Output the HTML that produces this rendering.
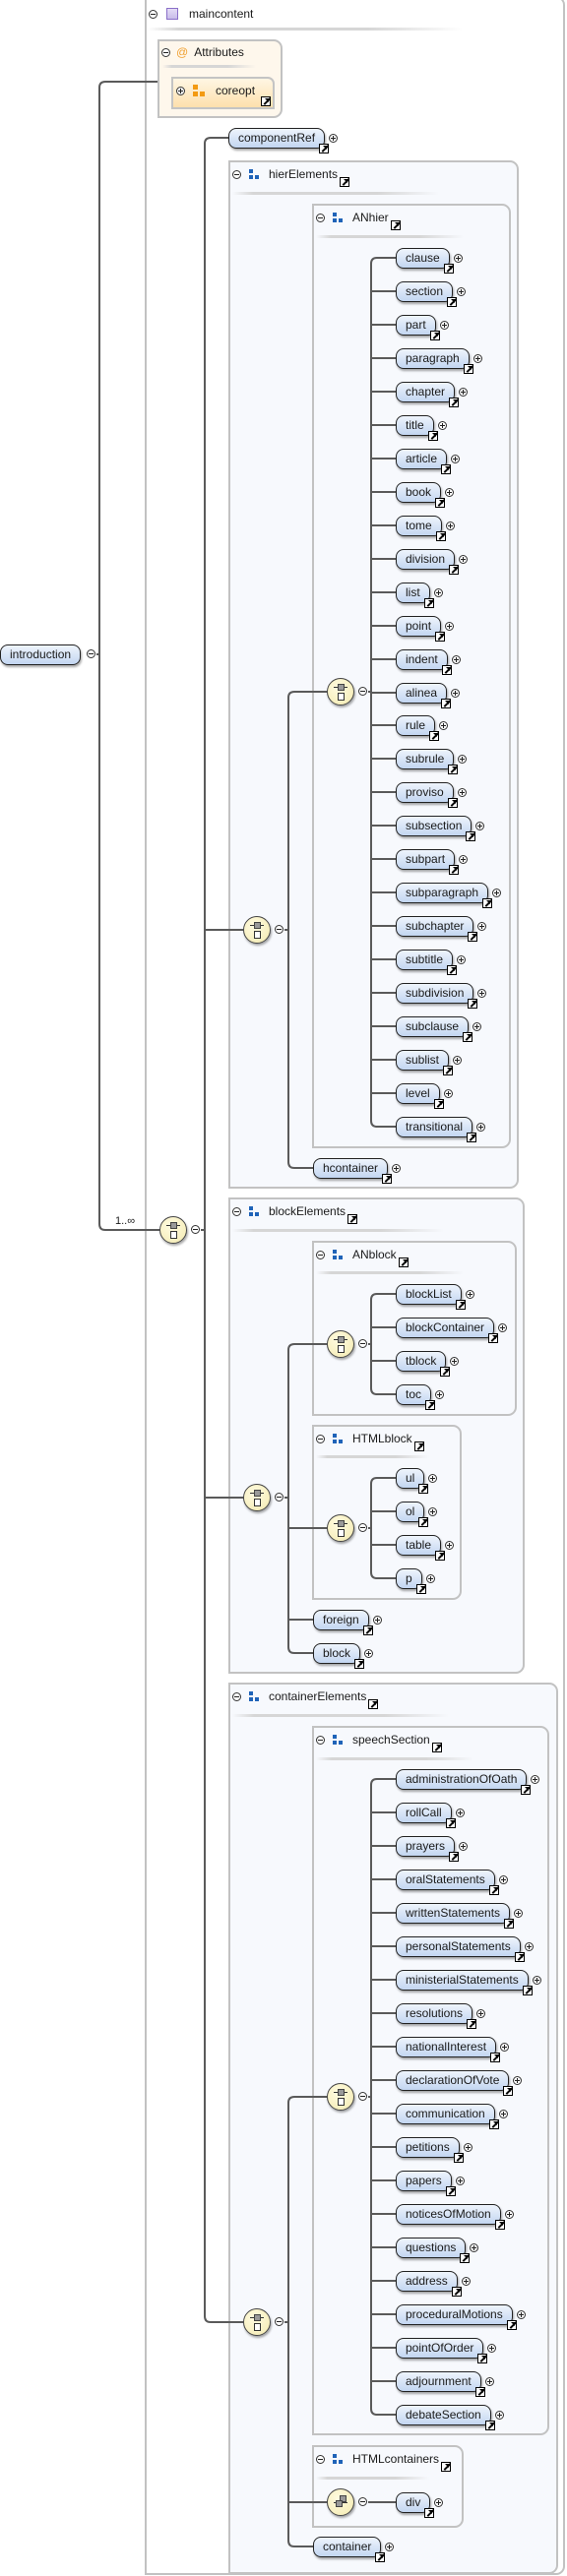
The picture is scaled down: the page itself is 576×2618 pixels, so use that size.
<!DOCTYPE html>
<html><head><meta charset="utf-8">
<style>
*{box-sizing:border-box;margin:0;padding:0}
body{width:576px;height:2618px;position:relative;background:#fff;font-family:"Liberation Sans","DejaVu Sans",sans-serif;overflow:hidden;color:#1a1a1a}
.box{position:absolute;border:2px solid #c2c2c2;background:#f7f9fd;border-radius:0 9px 9px 0}
.ttl{position:absolute;font-size:12px;white-space:nowrap;height:14px;line-height:14px;display:flex;align-items:center}
.ttl .tx{margin-left:8px;position:relative}
.ttl .tx .lk{right:auto;left:calc(100% + 2px);bottom:auto;top:10px}
.sep{position:absolute;height:3px;background:linear-gradient(90deg,rgba(200,200,200,0),#d6d6d6 10%,#d6d6d6 70%,rgba(220,220,220,0))}
.bi{position:relative;width:12px;height:11px;display:inline-block;margin-left:8px}
.bi i{position:absolute;width:4px;height:4px;background:#1f63b8}
.el{position:absolute;display:flex;align-items:center;height:22px;white-space:nowrap}
.b{position:relative;height:21px;line-height:19px;padding:0 9px;border:1px solid #222;border-radius:8px;background:linear-gradient(#eef4fc,#c3d6f1);font-size:12px;box-shadow:1px 2px 2px rgba(0,0,0,.35)}
.lk{position:absolute;right:-5px;bottom:-6px;width:10px;height:10px;background:#fff;border:1px solid #000;overflow:hidden}
.lk::before{content:"";position:absolute;left:1px;top:3px;width:9px;height:2px;background:#000;transform:rotate(-45deg)}
.lk::after{content:"";position:absolute;right:1px;top:1px;width:0;height:0;border-top:4px solid #000;border-left:4px solid transparent}
.p,.m{position:relative;width:9px;height:9px;border:1px solid #333;border-radius:50%;background:#fff;flex:none}
.p{margin-left:4px}
.p::before,.m::before{content:"";position:absolute;left:1px;top:3px;width:5px;height:1px;background:#222}
.p::after{content:"";position:absolute;left:3px;top:1px;width:1px;height:5px;background:#222}
.m.a{position:absolute}
.nd{position:absolute;width:28px;height:28px;border:1px solid #444;border-radius:50%;background:radial-gradient(circle at 40% 35%,#fffbe0,#f3eab0);box-shadow:1px 2px 2px rgba(0,0,0,.35)}
.nd .h{position:absolute;left:6px;top:8px;width:14px;height:1px;background:#333}
.nd .g{position:absolute;left:10px;top:5px;width:7px;height:7px;background:#999;border:1px solid #444}
.nd .w{position:absolute;left:10px;top:14px;width:7px;height:8px;background:#fff;border:1px solid #333}
svg{position:absolute;left:0;top:0}
</style></head><body>

<!-- boxes -->
<div class="box" style="left:147px;top:-4px;width:427px;height:2621px;background:#fff"></div>
<div class="ttl" style="left:151px;top:7px"><span class="m"></span><span style="display:inline-block;width:12px;height:12px;margin-left:9px;border:1px solid #8a6fc8;background:linear-gradient(#e4dcf6,#c9bce9)"></span><span class="tx" style="margin-left:11px">maincontent</span></div>
<div class="sep" style="left:150px;top:28px;width:320px"></div>

<div class="box" style="left:160px;top:40px;width:127px;height:80px;background:#fef7ec;border-radius:0 9px 9px 0"></div>
<div class="ttl" style="left:164px;top:46px"><span class="m"></span><span style="color:#f0a030;margin-left:6px;font-size:12px">@</span><span class="tx" style="margin-left:6px">Attributes</span></div>
<div class="sep" style="left:165px;top:66px;width:95px"></div>
<div style="position:absolute;left:174px;top:78px;width:105px;height:33px;border:2px solid #c4c4c4;border-radius:0 7px 0 0;background:linear-gradient(#fff6e4,#fde0ac)"></div>
<div class="ttl" style="left:179px;top:85px"><span class="m" style="position:relative"><span style="position:absolute;left:3px;top:1px;width:1px;height:5px;background:#222"></span></span><span class="bi" style="margin-left:8px;width:14px;height:12px"><i style="left:0;top:0;width:5px;height:5px;background:#f39a12"></i><i style="left:0;top:7px;width:5px;height:5px;background:#f39a12"></i><i style="left:7px;top:7px;width:5px;height:5px;background:#f39a12"></i></span><span class="tx" style="margin-left:9px">coreopt</span></div>
<div class="lk" style="left:265px;top:98px;right:auto;bottom:auto"></div>

<div class="box" style="left:232px;top:163px;width:295px;height:1045px"></div>
<div class="ttl" style="left:236px;top:170px"><span class="m"></span><span class="bi"><i style="left:0;top:0"></i><i style="left:0;top:6px"></i><i style="left:6px;top:6px"></i></span><span class="tx">hierElements<span class="lk"></span></span></div>
<div class="sep" style="left:236px;top:195px;width:210px"></div>

<div class="box" style="left:317px;top:207px;width:202px;height:960px"></div>
<div class="ttl" style="left:321px;top:214px"><span class="m"></span><span class="bi"><i style="left:0;top:0"></i><i style="left:0;top:6px"></i><i style="left:6px;top:6px"></i></span><span class="tx">ANhier<span class="lk"></span></span></div>
<div class="sep" style="left:321px;top:239px;width:150px"></div>

<div class="box" style="left:232px;top:1217px;width:301px;height:484px"></div>
<div class="ttl" style="left:236px;top:1224px"><span class="m"></span><span class="bi"><i style="left:0;top:0"></i><i style="left:0;top:6px"></i><i style="left:6px;top:6px"></i></span><span class="tx">blockElements<span class="lk"></span></span></div>
<div class="sep" style="left:236px;top:1249px;width:215px"></div>

<div class="box" style="left:317px;top:1261px;width:208px;height:178px"></div>
<div class="ttl" style="left:321px;top:1268px"><span class="m"></span><span class="bi"><i style="left:0;top:0"></i><i style="left:0;top:6px"></i><i style="left:6px;top:6px"></i></span><span class="tx">ANblock<span class="lk"></span></span></div>
<div class="sep" style="left:321px;top:1292px;width:150px"></div>

<div class="box" style="left:317px;top:1448px;width:152px;height:178px"></div>
<div class="ttl" style="left:321px;top:1455px"><span class="m"></span><span class="bi"><i style="left:0;top:0"></i><i style="left:0;top:6px"></i><i style="left:6px;top:6px"></i></span><span class="tx">HTMLblock<span class="lk"></span></span></div>
<div class="sep" style="left:321px;top:1479px;width:115px"></div>

<div class="box" style="left:232px;top:1710px;width:335px;height:906px"></div>
<div class="ttl" style="left:236px;top:1717px"><span class="m"></span><span class="bi"><i style="left:0;top:0"></i><i style="left:0;top:6px"></i><i style="left:6px;top:6px"></i></span><span class="tx">containerElements<span class="lk"></span></span></div>
<div class="sep" style="left:236px;top:1742px;width:220px"></div>

<div class="box" style="left:317px;top:1754px;width:241px;height:721px"></div>
<div class="ttl" style="left:321px;top:1761px"><span class="m"></span><span class="bi"><i style="left:0;top:0"></i><i style="left:0;top:6px"></i><i style="left:6px;top:6px"></i></span><span class="tx">speechSection<span class="lk"></span></span></div>
<div class="sep" style="left:321px;top:1786px;width:160px"></div>

<div class="box" style="left:317px;top:2485px;width:154px;height:84px"></div>
<div class="ttl" style="left:321px;top:2492px"><span class="m"></span><span class="bi"><i style="left:0;top:0"></i><i style="left:0;top:6px"></i><i style="left:6px;top:6px"></i></span><span class="tx">HTMLcontainers<span class="lk"></span></span></div>
<div class="sep" style="left:321px;top:2517px;width:115px"></div>

<!-- connectors -->
<svg width="576" height="2618" fill="none" stroke="#5a5a5a" stroke-width="2">
<path d="M98 665H101M160 83H107Q101 83 101 89V1244Q101 1250 107 1250H162"/>
<path d="M204 1250H208M232 140H214Q208 140 208 146V2354Q208 2360 214 2360H247M208 945H247M208 1522H247"/>
<path d="M289 945H293M332 703H299Q293 703 293 709V1181Q293 1187 299 1187H318"/>
<path d="M374 703H377M402 262H383Q377 262 377 268V1139Q377 1145 383 1145H402
M377 296H402M377 330H402M377 364H402M377 398H402M377 432H402M377 466H402M377 500H402M377 534H402M377 568H402M377 602H402M377 636H402M377 670H402M377 704H402M377 737H402M377 771H402M377 805H402M377 839H402M377 873H402M377 907H402M377 941H402M377 975H402M377 1009H402M377 1043H402M377 1077H402M377 1111H402"/>
<path d="M289 1522H293M332 1366H299Q293 1366 293 1372V1674Q293 1680 299 1680H318M293 1553H332M293 1646H318"/>
<path d="M374 1366H377M402 1315H383Q377 1315 377 1321V1411Q377 1417 383 1417H402M377 1349H402M377 1383H402"/>
<path d="M374 1553H377M402 1502H383Q377 1502 377 1508V1598Q377 1604 383 1604H402M377 1536H402M377 1570H402"/>
<path d="M289 2360H293M332 2131H299Q293 2131 293 2137V2582Q293 2588 299 2588H318M293 2543H332"/>
<path d="M374 2131H377M402 1808H383Q377 1808 377 1814V2448Q377 2454 383 2454H402
M377 1842H402M377 1876H402M377 1910H402M377 1944H402M377 1978H402M377 2012H402M377 2046H402M377 2080H402M377 2114H402M377 2148H402M377 2182H402M377 2216H402M377 2250H402M377 2284H402M377 2318H402M377 2352H402M377 2386H402M377 2420H402"/>
<path d="M374 2543H402"/>
</svg>
<div style="position:absolute;left:117px;top:1235px;font-size:11px">1..∞</div>

<!-- nodes -->
<div class="nd" style="left:162px;top:1236px"><span class="h"></span><span class="g"></span><span class="w"></span></div><span class="m a" style="left:194px;top:1245px"></span>
<div class="nd" style="left:247px;top:931px"><span class="h"></span><span class="g"></span><span class="w"></span></div><span class="m a" style="left:279px;top:940px"></span>
<div class="nd" style="left:332px;top:689px"><span class="h"></span><span class="g"></span><span class="w"></span></div><span class="m a" style="left:364px;top:698px"></span>
<div class="nd" style="left:247px;top:1508px"><span class="h"></span><span class="g"></span><span class="w"></span></div><span class="m a" style="left:279px;top:1517px"></span>
<div class="nd" style="left:332px;top:1352px"><span class="h"></span><span class="g"></span><span class="w"></span></div><span class="m a" style="left:364px;top:1361px"></span>
<div class="nd" style="left:332px;top:1539px"><span class="h"></span><span class="g"></span><span class="w"></span></div><span class="m a" style="left:364px;top:1548px"></span>
<div class="nd" style="left:247px;top:2346px"><span class="h"></span><span class="g"></span><span class="w"></span></div><span class="m a" style="left:279px;top:2355px"></span>
<div class="nd" style="left:332px;top:2117px"><span class="h"></span><span class="g"></span><span class="w"></span></div><span class="m a" style="left:364px;top:2126px"></span>
<div class="nd" style="left:332px;top:2529px"><span class="h" style="top:13px"></span><span class="g" style="left:12px;top:6px"></span><span class="g" style="left:8px;top:11px"></span></div><span class="m a" style="left:364px;top:2538px"></span>

<!-- elements -->
<div class="el" style="left:0;top:654px"><span class="b">introduction</span><span class="p" style="display:none"></span></div><span class="m a" style="left:88px;top:660px"></span>
<div class="el" style="left:232px;top:129px"><span class="b">componentRef<i class="lk"></i></span><span class="p"></span></div>

<div class="el" style="left:402px;top:251px"><span class="b">clause<i class="lk"></i></span><span class="p"></span></div>
<div class="el" style="left:402px;top:285px"><span class="b">section<i class="lk"></i></span><span class="p"></span></div>
<div class="el" style="left:402px;top:319px"><span class="b">part<i class="lk"></i></span><span class="p"></span></div>
<div class="el" style="left:402px;top:353px"><span class="b">paragraph<i class="lk"></i></span><span class="p"></span></div>
<div class="el" style="left:402px;top:387px"><span class="b">chapter<i class="lk"></i></span><span class="p"></span></div>
<div class="el" style="left:402px;top:421px"><span class="b">title<i class="lk"></i></span><span class="p"></span></div>
<div class="el" style="left:402px;top:455px"><span class="b">article<i class="lk"></i></span><span class="p"></span></div>
<div class="el" style="left:402px;top:489px"><span class="b">book<i class="lk"></i></span><span class="p"></span></div>
<div class="el" style="left:402px;top:523px"><span class="b">tome<i class="lk"></i></span><span class="p"></span></div>
<div class="el" style="left:402px;top:557px"><span class="b">division<i class="lk"></i></span><span class="p"></span></div>
<div class="el" style="left:402px;top:591px"><span class="b">list<i class="lk"></i></span><span class="p"></span></div>
<div class="el" style="left:402px;top:625px"><span class="b">point<i class="lk"></i></span><span class="p"></span></div>
<div class="el" style="left:402px;top:659px"><span class="b">indent<i class="lk"></i></span><span class="p"></span></div>
<div class="el" style="left:402px;top:693px"><span class="b">alinea<i class="lk"></i></span><span class="p"></span></div>
<div class="el" style="left:402px;top:726px"><span class="b">rule<i class="lk"></i></span><span class="p"></span></div>
<div class="el" style="left:402px;top:760px"><span class="b">subrule<i class="lk"></i></span><span class="p"></span></div>
<div class="el" style="left:402px;top:794px"><span class="b">proviso<i class="lk"></i></span><span class="p"></span></div>
<div class="el" style="left:402px;top:828px"><span class="b">subsection<i class="lk"></i></span><span class="p"></span></div>
<div class="el" style="left:402px;top:862px"><span class="b">subpart<i class="lk"></i></span><span class="p"></span></div>
<div class="el" style="left:402px;top:896px"><span class="b">subparagraph<i class="lk"></i></span><span class="p"></span></div>
<div class="el" style="left:402px;top:930px"><span class="b">subchapter<i class="lk"></i></span><span class="p"></span></div>
<div class="el" style="left:402px;top:964px"><span class="b">subtitle<i class="lk"></i></span><span class="p"></span></div>
<div class="el" style="left:402px;top:998px"><span class="b">subdivision<i class="lk"></i></span><span class="p"></span></div>
<div class="el" style="left:402px;top:1032px"><span class="b">subclause<i class="lk"></i></span><span class="p"></span></div>
<div class="el" style="left:402px;top:1066px"><span class="b">sublist<i class="lk"></i></span><span class="p"></span></div>
<div class="el" style="left:402px;top:1100px"><span class="b">level<i class="lk"></i></span><span class="p"></span></div>
<div class="el" style="left:402px;top:1134px"><span class="b">transitional<i class="lk"></i></span><span class="p"></span></div>
<div class="el" style="left:318px;top:1176px"><span class="b">hcontainer<i class="lk"></i></span><span class="p"></span></div>

<div class="el" style="left:402px;top:1304px"><span class="b">blockList<i class="lk"></i></span><span class="p"></span></div>
<div class="el" style="left:402px;top:1338px"><span class="b">blockContainer<i class="lk"></i></span><span class="p"></span></div>
<div class="el" style="left:402px;top:1372px"><span class="b">tblock<i class="lk"></i></span><span class="p"></span></div>
<div class="el" style="left:402px;top:1406px"><span class="b">toc<i class="lk"></i></span><span class="p"></span></div>
<div class="el" style="left:402px;top:1491px"><span class="b">ul<i class="lk"></i></span><span class="p"></span></div>
<div class="el" style="left:402px;top:1525px"><span class="b">ol<i class="lk"></i></span><span class="p"></span></div>
<div class="el" style="left:402px;top:1559px"><span class="b">table<i class="lk"></i></span><span class="p"></span></div>
<div class="el" style="left:402px;top:1593px"><span class="b">p<i class="lk"></i></span><span class="p"></span></div>
<div class="el" style="left:318px;top:1635px"><span class="b">foreign<i class="lk"></i></span><span class="p"></span></div>
<div class="el" style="left:318px;top:1669px"><span class="b">block<i class="lk"></i></span><span class="p"></span></div>

<div class="el" style="left:402px;top:1797px"><span class="b">administrationOfOath<i class="lk"></i></span><span class="p"></span></div>
<div class="el" style="left:402px;top:1831px"><span class="b">rollCall<i class="lk"></i></span><span class="p"></span></div>
<div class="el" style="left:402px;top:1865px"><span class="b">prayers<i class="lk"></i></span><span class="p"></span></div>
<div class="el" style="left:402px;top:1899px"><span class="b">oralStatements<i class="lk"></i></span><span class="p"></span></div>
<div class="el" style="left:402px;top:1933px"><span class="b">writtenStatements<i class="lk"></i></span><span class="p"></span></div>
<div class="el" style="left:402px;top:1967px"><span class="b">personalStatements<i class="lk"></i></span><span class="p"></span></div>
<div class="el" style="left:402px;top:2001px"><span class="b">ministerialStatements<i class="lk"></i></span><span class="p"></span></div>
<div class="el" style="left:402px;top:2035px"><span class="b">resolutions<i class="lk"></i></span><span class="p"></span></div>
<div class="el" style="left:402px;top:2069px"><span class="b">nationalInterest<i class="lk"></i></span><span class="p"></span></div>
<div class="el" style="left:402px;top:2103px"><span class="b">declarationOfVote<i class="lk"></i></span><span class="p"></span></div>
<div class="el" style="left:402px;top:2137px"><span class="b">communication<i class="lk"></i></span><span class="p"></span></div>
<div class="el" style="left:402px;top:2171px"><span class="b">petitions<i class="lk"></i></span><span class="p"></span></div>
<div class="el" style="left:402px;top:2205px"><span class="b">papers<i class="lk"></i></span><span class="p"></span></div>
<div class="el" style="left:402px;top:2239px"><span class="b">noticesOfMotion<i class="lk"></i></span><span class="p"></span></div>
<div class="el" style="left:402px;top:2273px"><span class="b">questions<i class="lk"></i></span><span class="p"></span></div>
<div class="el" style="left:402px;top:2307px"><span class="b">address<i class="lk"></i></span><span class="p"></span></div>
<div class="el" style="left:402px;top:2341px"><span class="b">proceduralMotions<i class="lk"></i></span><span class="p"></span></div>
<div class="el" style="left:402px;top:2375px"><span class="b">pointOfOrder<i class="lk"></i></span><span class="p"></span></div>
<div class="el" style="left:402px;top:2409px"><span class="b">adjournment<i class="lk"></i></span><span class="p"></span></div>
<div class="el" style="left:402px;top:2443px"><span class="b">debateSection<i class="lk"></i></span><span class="p"></span></div>
<div class="el" style="left:402px;top:2532px"><span class="b">div<i class="lk"></i></span><span class="p"></span></div>
<div class="el" style="left:318px;top:2577px"><span class="b">container<i class="lk"></i></span><span class="p"></span></div>

</body></html>
